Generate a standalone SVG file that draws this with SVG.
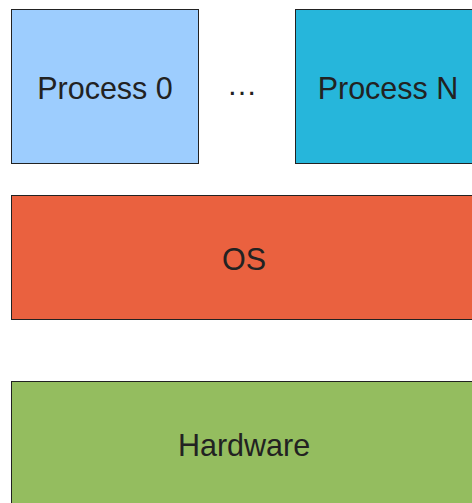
<svg xmlns="http://www.w3.org/2000/svg" width="472" height="503" viewBox="0 0 472 503">
<style>
.box{stroke:#222;stroke-width:1}
.lbl{font-family:"Liberation Sans",Arial,sans-serif;font-size:30.5px;fill:#222;text-anchor:middle}
</style>
<rect width="472" height="503" fill="#fff"/>
<g id="process0">
<rect class="box" x="11.5" y="9.5" width="187" height="154" fill="#9dcdfe"/>
<text class="lbl" x="105" y="99">Process 0</text>
</g>
<g id="ellipsis">
<text class="lbl" x="242" y="95" font-size="28">…</text>
</g>
<g id="processN">
<rect class="box" x="295.5" y="9.5" width="187" height="154" fill="#26b6db"/>
<text class="lbl" x="388" y="99">Process N</text>
</g>
<g id="os">
<rect class="box" x="11.5" y="195.5" width="470" height="124" fill="#ea613f"/>
<text class="lbl" x="244" y="270">OS</text>
</g>
<g id="hardware">
<rect class="box" x="11.5" y="381.5" width="470" height="130" fill="#94bd5f"/>
<text class="lbl" x="244" y="456">Hardware</text>
</g>
<g id="connectors"></g>
</svg>
